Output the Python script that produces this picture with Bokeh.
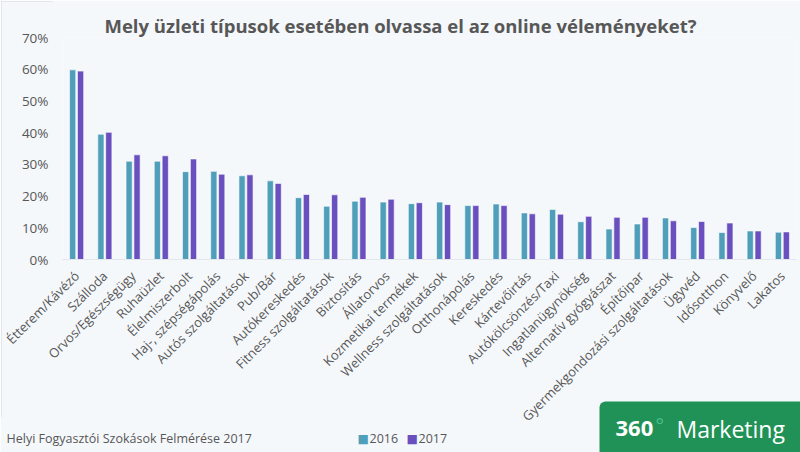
from bokeh.plotting import figure
from bokeh.layouts import column
from bokeh.models import (ColumnDataSource, FactorRange, Range1d, PrintfTickFormatter,
                          Label, BoxAnnotation)
from bokeh.transform import dodge
from bokeh.embed import file_html
from bokeh.resources import INLINE
import math

# survey categories and share of respondents (percent) per year
categories = [
    "Étterem/Kávézó", "Szálloda", "Orvos/Egészségügy", "Ruhaüzlet", "Élelmiszerbolt",
    "Haj-, szépségápolás", "Autós szolgáltatások", "Pub/Bár", "Autókereskedés",
    "Fitness szolgáltatások", "Biztosítás", "Állatorvos", "Kozmetikai termékek",
    "Wellness szolgáltatások", "Otthonápolás", "Kereskedés", "Kártevőirtás",
    "Autókölcsönzés/Taxi", "Ingatlanügynökség", "Alternatív gyógyászat", "Építőipar",
    "Gyermekgondozási szolgáltatások", "Ügyvéd", "Idősotthon", "Könyvelő", "Lakatos",
]
values_2016 = [59.8, 39.5, 31.0, 31.0, 27.7, 27.8, 26.4, 24.8, 19.5, 16.8, 18.4, 18.1, 17.6,
               18.1, 17.0, 17.5, 14.7, 15.8, 11.9, 9.6, 11.2, 13.1, 10.1, 8.5, 9.0, 8.6]
values_2017 = [59.4, 40.1, 33.0, 32.7, 31.7, 26.9, 26.7, 24.0, 20.5, 20.4, 19.6, 19.0, 17.9,
               17.3, 17.0, 17.0, 14.4, 14.3, 13.6, 13.3, 13.3, 12.2, 12.0, 11.5, 9.0, 8.7]
series = ["2016", "2017"]
y_ticks = [0, 10, 20, 30, 40, 50, 60, 70]

COLOR_2016 = "#4f9fbb"
COLOR_2017 = "#6a50bf"
TEXT = "#575757"
BG = "#f5f8fb"
FONT = "Open Sans"
W, H = 800, 452

source = ColumnDataSource(dict(cat=categories, v2016=values_2016, v2017=values_2017))

p = figure(
    width=W, height=H,
    x_range=FactorRange(*categories),
    y_range=Range1d(0, 70),
    output_backend="svg", toolbar_location=None, frame_align=False,
    min_border_left=62, min_border_right=4, min_border_top=37, min_border_bottom=193,
    background_fill_color=BG, border_fill_color=BG,
)
p.outline_line_color = None
p.xgrid.visible = False
p.ygrid.visible = False

p.vbar(x=dodge("cat", -0.14, range=p.x_range), top="v2016", width=0.22, source=source,
       fill_color=COLOR_2016, line_color="white", line_alpha=0.6, line_width=1)
p.vbar(x=dodge("cat", 0.14, range=p.x_range), top="v2017", width=0.22, source=source,
       fill_color=COLOR_2017, line_color="white", line_alpha=0.6, line_width=1)

# y axis: percentage labels only
p.yaxis.ticker = y_ticks
p.yaxis.formatter = PrintfTickFormatter(format="%d%%")
p.yaxis.axis_line_color = None
p.yaxis.major_tick_line_color = None
p.yaxis.minor_tick_line_color = None
p.yaxis.major_label_standoff = 8
p.yaxis.major_label_text_font = FONT
p.yaxis.major_label_text_font_size = "13.5px"
p.yaxis.major_label_text_color = TEXT

# x axis: rotated category names
p.xaxis.axis_line_color = "#e3e7ec"
p.xaxis.major_tick_line_color = None
p.xaxis.minor_tick_line_color = None
p.xaxis.major_label_orientation = math.pi / 4
p.xaxis.major_label_standoff = 8
p.xaxis.major_label_text_font = FONT
p.xaxis.major_label_text_font_size = "13px"
p.xaxis.major_label_text_color = TEXT

# transparent pixel-space layer on top for title, caption, legend and badge
ov = figure(
    width=W, height=H, x_range=Range1d(0, W), y_range=Range1d(H, 0),
    x_axis_location=None, y_axis_location=None, frame_align=False,
    output_backend="svg", toolbar_location=None, min_border=0,
    background_fill_alpha=0, border_fill_alpha=0, margin=(-H, 0, 0, 0),
)
ov.outline_line_color = None
ov.grid.visible = False

def label(x, y, text, **kw):
    opts = dict(text_font=FONT, text_color=TEXT, text_baseline="middle")
    opts.update(kw)
    ov.add_layout(Label(x=x, y=y, text=text, **opts))

def box(left, right, top, bottom, color, **kw):
    ov.add_layout(BoxAnnotation(left=left, right=right, top=top, bottom=bottom,
                                fill_color=color, fill_alpha=1, line_color=None, **kw))

# faint panel edge on the left
box(0.5, 1.5, 0, 417, "#e3e6ea")
box(0, 52, 0.5, 1.5, "#e3e6ea")

# title
label(400, 25, "Mely üzleti típusok esetében olvassa el az online véleményeket?",
      text_align="center", text_font_size="18.5px", text_font_style="bold")

# source note
label(6, 438, "Helyi Fogyasztói Szokások Felmérése 2017", text_font_size="12.5px")

# legend
label(357, 438, "■", text_color=COLOR_2016, text_font="DejaVu Sans", text_font_size="12px")
label(369, 438, series[0], text_font_size="12.5px")
label(406, 438, "■", text_color=COLOR_2017, text_font="DejaVu Sans", text_font_size="12px")
label(418, 438, series[1], text_font_size="12.5px")

# brand badge
box(599, 806, 401, 460, "#219257", border_radius=6)
label(615, 428, "360", text_color="white", text_font_size="22px", text_font_style="bold")
label(655, 411, "°", text_color="#49c088", text_font_size="20px", text_baseline="top")
label(676, 428, "Marketing", text_color="white", text_font_size="23px")

open("out.html", "w").write(file_html(column(p, ov, spacing=0), INLINE))
